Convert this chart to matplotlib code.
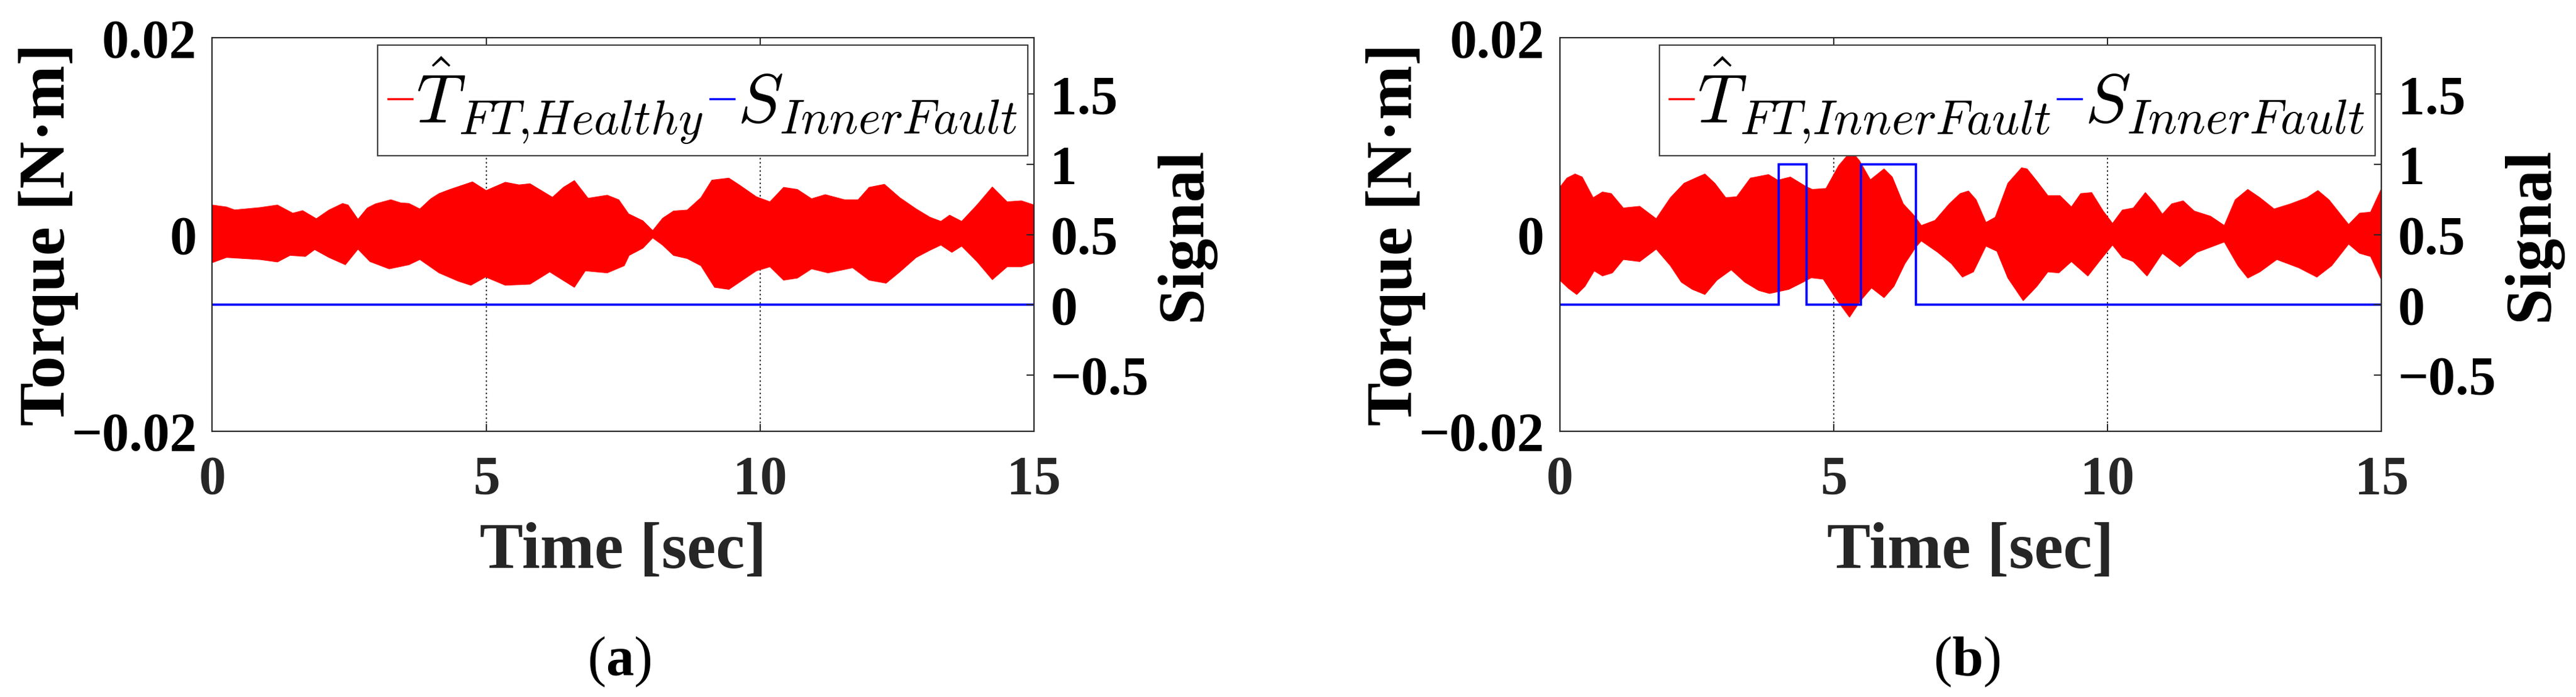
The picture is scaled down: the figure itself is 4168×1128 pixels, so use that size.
import numpy as np
import matplotlib
matplotlib.use('Agg')
import matplotlib.pyplot as plt
from matplotlib.font_manager import FontProperties
from matplotlib.lines import Line2D

# --- envelope of the estimated torque (mN*m) ---
t_a_up = [0, 0.26, 0.41, 0.87, 1.19, 1.47, 1.65, 1.90, 2.13, 2.38, 2.48, 2.66, 2.83, 2.98,
          3.26, 3.44, 3.59, 3.79, 3.99, 4.14, 4.34, 4.75, 5.0, 5.35, 5.60, 5.80, 6.21, 6.41,
          6.61, 6.86, 7.21, 7.42, 7.60, 7.86, 8.04, 8.22, 8.42, 8.67, 8.92, 9.12, 9.43, 9.63,
          9.93, 10.18, 10.43, 10.68, 10.94, 11.19, 11.54, 11.79, 11.99, 12.27, 12.55, 12.85,
          13.10, 13.30, 13.46, 13.68, 13.96, 14.24, 14.51, 14.77, 15.0]
T_a_up = [3.0, 2.8, 2.5, 2.74, 3.0, 2.17, 2.43, 1.61, 2.49, 3.16, 3.0, 1.55, 2.70, 3.12,
          3.54, 3.22, 3.16, 2.60, 3.64, 4.17, 4.59, 5.36, 4.48, 5.32, 5.05, 5.17, 3.79, 4.80,
          5.49, 3.69, 4.00, 3.54, 2.10, 1.40, 0.40, 1.65, 2.39, 2.49, 3.75, 5.53, 5.74, 5.01,
          3.85, 3.33, 4.80, 4.59, 3.64, 4.06, 3.54, 3.54, 4.80, 5.11, 3.75, 2.60,
          1.76, 1.34, 1.97, 1.34, 3.01, 4.84, 3.33, 3.43, 3.01]
t_a_lo = [0, 0.26, 0.87, 1.19, 1.42, 1.70, 1.87, 2.13, 2.43, 2.66, 2.88, 3.23, 3.59, 3.79,
          4.14, 4.49, 4.72, 4.99, 5.35, 5.80, 6.16, 6.61, 6.81, 7.21, 7.52, 7.61, 7.86, 8.04,
          8.22, 8.42, 8.67, 8.92, 9.17, 9.43, 9.68, 9.93, 10.18, 10.43, 10.68, 10.94, 11.24,
          11.69, 11.99, 12.30, 12.55, 12.85, 13.10, 13.30, 13.50, 13.68, 13.96, 14.24, 14.51,
          14.77, 15.0]
T_a_lo = [-2.86, -2.33, -2.54, -2.79, -2.12, -2.23, -1.53, -2.33, -3.07, -1.49, -2.75, -3.49,
          -3.07, -2.54, -3.90, -4.74, -5.16, -4.32, -5.16, -5.05, -3.80, -5.37, -3.69, -3.90,
          -3.17, -2.12, -1.39, -0.34, -1.07, -2.12, -2.44, -3.17, -5.37, -5.58, -4.64, -3.70,
          -3.28, -4.64, -4.43, -3.49, -3.90, -3.38, -4.64, -4.95, -3.80, -2.33, -1.60, -1.07,
          -1.81, -1.18, -2.75, -4.59, -3.28, -3.28, -2.86]

t_b_up = [0, 0.13, 0.28, 0.41, 0.61, 0.78, 0.94, 1.16, 1.46, 1.76, 2.02, 2.27, 2.52, 2.65,
          2.83, 3.03, 3.23, 3.48, 3.81, 3.98, 4.21, 4.49, 4.61, 4.86, 5.09, 5.32, 5.47, 5.67,
          5.92, 6.07, 6.27, 6.48, 6.60, 6.85, 7.11, 7.31, 7.46, 7.60, 7.78, 7.95, 8.18, 8.43,
          8.53, 8.71, 8.91, 9.13, 9.34, 9.51, 9.71, 9.92, 10.09, 10.27, 10.47, 10.69, 10.87,
          11.00, 11.17, 11.38, 11.58, 11.88, 12.13, 12.33, 12.56, 12.78, 13.04, 13.34, 13.64,
          13.84, 14.04, 14.40, 14.60, 14.80, 15.0]
T_b_up = [4.79, 5.74, 6.16, 5.85, 3.75, 4.33, 4.17, 2.70, 2.87, 1.61, 3.75, 5.22, 5.85, 6.16,
          5.22, 3.75, 3.85, 5.74, 6.10, 5.53, 5.85, 4.90, 4.59, 4.69, 7.00, 8.51, 7.52, 5.57,
          6.68, 5.85, 3.12, 1.86, 0.92, 1.44, 3.12, 4.17, 4.43, 3.54, 1.23, 1.76, 5.22, 6.79,
          6.68, 5.43, 3.96, 3.96, 2.81, 4.17, 4.27, 2.39, 1.13, 2.49, 2.70, 4.27, 3.12,
          2.07, 3.12, 3.43, 2.39, 1.86, 0.92, 3.54, 4.59, 3.75, 2.60, 3.12, 3.75,
          4.48, 3.54, 1.02, 2.17, 2.28, 4.69]
t_b_lo = [0, 0.16, 0.31, 0.46, 0.63, 0.78, 0.96, 1.16, 1.46, 1.76, 2.02, 2.22, 2.42, 2.65,
          2.87, 3.13, 3.38, 3.63, 3.83, 4.18, 4.44, 4.59, 4.81, 5.04, 5.29, 5.49, 5.69, 5.92,
          6.10, 6.30, 6.50, 6.60, 6.90, 7.15, 7.35, 7.55, 7.78, 7.98, 8.18, 8.46, 8.71, 8.91,
          9.11, 9.34, 9.64, 9.86, 10.09, 10.27, 10.47, 10.72, 11.00, 11.32, 11.63, 12.13,
          12.38, 12.56, 12.78, 13.09, 13.49, 13.82, 14.09, 14.40, 14.60, 14.80, 15.0]
T_b_lo = [-4.64, -5.48, -6.10, -5.27, -3.70, -4.21, -3.90, -2.54, -2.75, -1.49, -3.17, -4.85,
          -5.58, -6.10, -4.64, -3.59, -4.85, -5.69, -6.00, -5.58, -4.85, -4.40, -4.54, -6.52,
          -8.41, -6.73, -5.43, -6.42, -5.27, -2.96, -1.28, -0.65, -1.81, -2.96, -4.33, -3.80,
          -1.18, -1.70, -4.43, -6.73, -5.27, -3.80, -3.90, -2.75, -4.22, -2.65, -1.07, -2.33,
          -2.75, -4.22, -1.91, -3.28, -1.81, -0.76, -3.17, -4.43, -3.80, -2.54, -3.38, -4.33,
          -3.17, -0.97, -1.91, -2.23, -4.64]

# fault signal as steps: bin edges (s) and levels
sig_a_edges = [0, 15]
sig_a_levels = [0]
sig_b_edges = [0, 4.0, 4.5, 5.5, 6.5, 15]
sig_b_levels = [0, 1, 0, 1, 0]

torque_ticks = [-0.02, 0, 0.02]
torque_ticklabels = ['\u22120.02', '0', '0.02']
signal_ticks = [-0.5, 0, 0.5, 1, 1.5]
signal_ticklabels = ['\u22120.5', '0', '0.5', '1', '1.5']
time_ticks = [0, 5, 10, 15]

labels_T = [r'$\hat{T}_{FT{,}Healthy}$', r'$\hat{T}_{FT{,}InnerFault}$']
label_S = r'$S_{InnerFault}$'
captions = ['a', 'b']

plt.rcParams['font.family'] = ['Liberation Serif', 'DejaVu Serif']
plt.rcParams['mathtext.fontset'] = 'custom'
plt.rcParams['mathtext.rm'] = 'Liberation Serif'
plt.rcParams['mathtext.bf'] = 'Liberation Serif:bold'

TICK_FS = 63
LABEL_FS = 76
DARK = '#262626'

fig = plt.figure(figsize=(41.68, 11.28), dpi=100)

panels = [
    (0.0824, t_a_up, T_a_up, t_a_lo, T_a_lo, sig_a_edges, sig_a_levels),
    (0.6055, t_b_up, T_b_up, t_b_lo, T_b_lo, sig_b_edges, sig_b_levels),
]

for i, (left, tu, yu, tl, yl, edges, levels) in enumerate(panels):
    ax = fig.add_axes([left, 0.3815, 0.319, 0.564])
    ax2 = ax.twinx()

    # envelope of the fast oscillation, drawn as a filled band
    xs = np.concatenate([tu, tl[::-1]])
    ys = np.concatenate([yu, yl[::-1]]) * 1e-3
    ax.fill(xs, ys, color='#ff0000', lw=0.8, zorder=2)
    ax2.stairs(levels, edges, baseline=None, color='#0000ff', lw=2.6)

    ax.set_xlim(0, 15)
    ax.set_ylim(-0.02, 0.02)
    ax2.set_ylim(-0.9, 1.9)

    ax.set_xticks(time_ticks)
    ax.set_xticklabels([str(v) for v in time_ticks])
    ax.set_yticks(torque_ticks)
    ax.set_yticklabels(torque_ticklabels)
    ax2.set_yticks(signal_ticks)
    ax2.set_yticklabels(signal_ticklabels)

    ax.grid(axis='x', color='black', ls=(0, (1.5, 2.5)), lw=1.2)
    ax.tick_params(axis='x', direction='in', top=True, length=9, width=1.4,
                   labelsize=TICK_FS, pad=28, labelcolor=DARK, color=DARK)
    ax.tick_params(axis='y', direction='in', right=False, length=9, width=1.4,
                   labelsize=TICK_FS, pad=18, color=DARK)
    ax2.tick_params(axis='y', direction='in', length=9, width=1.4,
                    labelsize=TICK_FS, pad=19, color=DARK)
    for a in (ax, ax2):
        for lab in a.get_xticklabels() + a.get_yticklabels():
            lab.set_fontweight('bold')
        for sp in a.spines.values():
            sp.set_color(DARK)
            sp.set_linewidth(1.5)

    ax.set_xlabel('Time [sec]', fontsize=LABEL_FS, fontweight='bold', color=DARK)
    ax.xaxis.set_label_coords(0.5, -0.232)
    ax.set_ylabel('Torque [N\u00b7m]', fontsize=LABEL_FS, fontweight='bold')
    ax.yaxis.set_label_coords(-0.163, 0.5)
    ax2.set_ylabel('Signal', fontsize=LABEL_FS, fontweight='bold')
    ax2.yaxis.set_label_coords(1.147, 0.5)

    handles = [Line2D([], [], color='#ff0000', lw=2.5),
               Line2D([], [], color='#0000ff', lw=2.5)]
    leg = ax2.legend(handles, [labels_T[i], label_S], ncol=2, loc='upper right',
                     bbox_to_anchor=(0.9925, 0.982), borderaxespad=0,
                     prop=FontProperties(size=80, math_fontfamily='cm'),
                     handlelength=0.35, handletextpad=0.05, columnspacing=0.1,
                     borderpad=0.15, fancybox=False, framealpha=1)
    leg.get_frame().set_edgecolor('#404040')
    leg.get_frame().set_linewidth(1.6)

    fig.text(left + 0.158, 0.051, '($\\mathbf{' + captions[i] + '}$)',
             fontsize=65, ha='center', va='center')

fig.savefig('out.png', dpi=100)
